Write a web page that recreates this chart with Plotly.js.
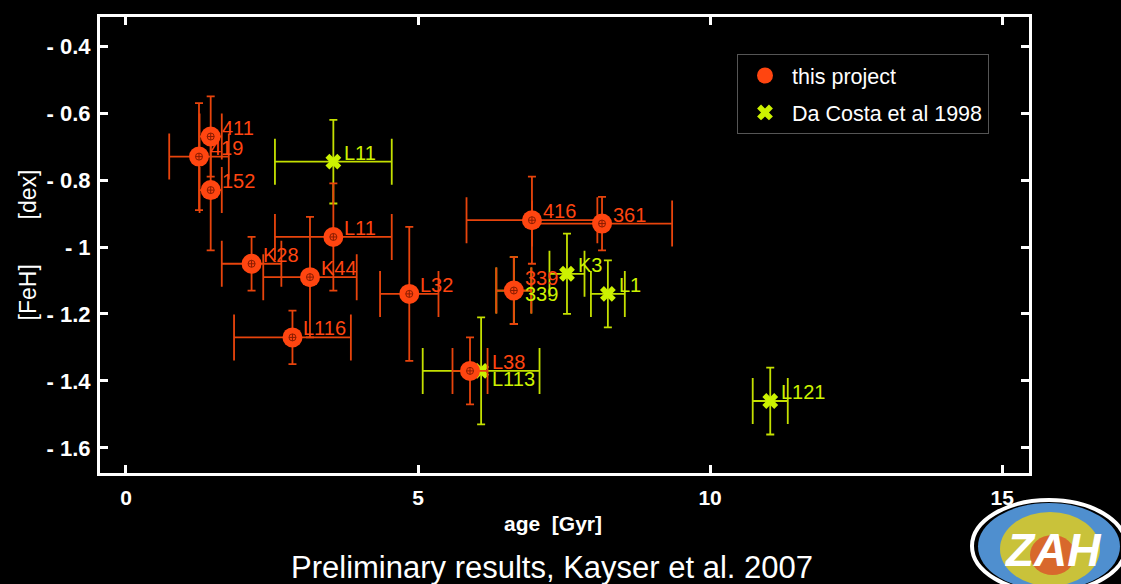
<!DOCTYPE html>
<html>
<head>
<meta charset="utf-8">
<script src="https://cdn.plot.ly/plotly-3.0.1.min.js"></script>
<style>
html,body{margin:0;padding:0;background:#000;}
#chart{width:1121px;height:584px;}
</style>
</head>
<body>
<div id="chart"></div>
<script>
// ---- data: this project (orange) ----
const projNames  = ["411", "419", "152", "K28", "K44", "L11", "L116", "L32", "L38", "339", "416", "361"];
const projAge    = [1.45, 1.25, 1.45, 2.15, 3.15, 3.55, 2.85, 4.85, 5.89, 6.64, 6.95, 8.15];
const projFeH    = [-0.67, -0.73, -0.83, -1.05, -1.09, -0.97, -1.27, -1.14, -1.37, -1.13, -0.92, -0.93];
const projAgeErr = [0.19, 0.51, 0.19, 0.51, 0.80, 1.00, 1.00, 0.50, 0.30, 0.30, 1.12, 1.20];
const projFeHErr = [0.12, 0.16, 0.18, 0.08, 0.18, 0.16, 0.08, 0.20, 0.10, 0.10, 0.13, 0.08];

// ---- data: Da Costa et al 1998 (yellow-green) ----
const dcNames  = ["L11", "339", "K3", "L1", "L113", "L121"];
const dcAge    = [3.55, 6.64, 7.55, 8.25, 6.08, 11.03];
const dcFeH    = [-0.745, -1.13, -1.08, -1.14, -1.37, -1.46];
const dcAgeErr = [1.00, 0.30, 0.30, 0.29, 1.00, 0.30];
const dcFeHErr = [0.125, 0.10, 0.12, 0.10, 0.16, 0.10];

// ---- ticks ----
const xTickVals = [0, 5, 10, 15];
const xTickText = ["0", "5", "10", "15"];
const yTickVals = [-0.4, -0.6, -0.8, -1, -1.2, -1.4, -1.6];
const yTickText = ["- 0.4", "- 0.6", "- 0.8", "- 1", "- 1.2", "- 1.4", "- 1.6"];

// ---- styling ----
const ORANGE = "#ff4510", ORANGE_BAR = "#e8440c";
const GREEN = "#ccf200", GREEN_BAR = "#c4e000";
const FONT = "Liberation Sans, Arial, Helvetica, sans-serif";
const W = 1121, H = 584;
const M = {l: 100, r: 92, t: 17, b: 111};
const PW = W - M.l - M.r, PH = H - M.t - M.b;
const px = v => (v - M.l) / PW;
const py = v => 1 - (v - M.t) / PH;

const labelShift = {
  "p:L38": {xshift: 20},
  "p:339": {yshift: 13},
  "d:339": {yshift: -3},
  "d:L113": {yshift: -8}
};

function labels(names, xs, ys, color, key) {
  return names.map((n, i) => {
    const o = labelShift[key + ":" + n] || {};
    return {
      x: xs[i], y: ys[i], xref: "x", yref: "y", text: n, showarrow: false,
      xanchor: "left", yanchor: "middle",
      xshift: o.xshift !== undefined ? o.xshift : 9,
      yshift: o.yshift !== undefined ? o.yshift : 9,
      font: {family: FONT, size: 20, color: color}
    };
  });
}

const traces = [
  {
    type: "scatter", mode: "markers", name: "Da Costa et al 1998",
    x: dcAge, y: dcFeH, legendgroup: "b", legendrank: 2,
    marker: {symbol: "x", size: 14, color: GREEN, line: {width: 0}},
    error_x: {type: "data", array: dcAgeErr, visible: true, color: GREEN_BAR, thickness: 1.8, width: 23},
    error_y: {type: "data", array: dcFeHErr, visible: true, color: GREEN_BAR, thickness: 1.8, width: 4},
    hoverinfo: "skip"
  },
  {
    type: "scatter", mode: "markers", name: "this project",
    x: projAge, y: projFeH, legendgroup: "a", legendrank: 1,
    marker: {symbol: "circle", size: 20, color: ORANGE, line: {width: 0}},
    error_x: {type: "data", array: projAgeErr, visible: true, color: ORANGE_BAR, thickness: 1.8, width: 23},
    error_y: {type: "data", array: projFeHErr, visible: true, color: ORANGE_BAR, thickness: 1.8, width: 4},
    hoverinfo: "skip"
  },
  {
    type: "scatter", mode: "markers", showlegend: false,
    x: projAge, y: projFeH,
    marker: {symbol: "circle-cross-open", size: 7, color: "#8a1c00", line: {width: 1, color: "#8a1c00"}},
    hoverinfo: "skip"
  }
];

const logoShapes = [
  {type: "circle", xref: "paper", yref: "paper", layer: "above",
   x0: px(978), x1: px(1120), y0: py(590), y1: py(503),
   fillcolor: "#4f8fcf", line: {width: 0}},
  {type: "circle", xref: "paper", yref: "paper", layer: "above",
   x0: px(1000), x1: px(1100), y0: py(586), y1: py(512),
   fillcolor: "#c9c23a", line: {width: 0}},
  {type: "circle", xref: "paper", yref: "paper", layer: "above",
   x0: px(1030), x1: px(1075), y0: py(575), y1: py(535),
   fillcolor: "#d8682c", line: {width: 0}},
  {type: "circle", xref: "paper", yref: "paper", layer: "above",
   x0: px(972), x1: px(1126), y0: py(592), y1: py(500),
   fillcolor: "rgba(0,0,0,0)", line: {width: 4, color: "#ffffff"}}
];

const layout = {
  width: W, height: H,
  margin: M,
  paper_bgcolor: "#000000", plot_bgcolor: "#000000",
  showlegend: true,
  hovermode: false,
  font: {family: FONT, color: "#ffffff"},
  xaxis: {
    range: [-0.445, 15.46],
    tickvals: xTickVals, ticktext: xTickText,
    ticks: "inside", ticklen: 8, tickwidth: 3, tickcolor: "#ffffff",
    showline: true, linecolor: "#ffffff", linewidth: 3, mirror: "ticks",
    showgrid: false, zeroline: false,
    tickfont: {family: FONT, size: 21, color: "#ffffff", weight: "bold"},
    ticklabelstandoff: 4
  },
  yaxis: {
    range: [-1.675, -0.313],
    tickvals: yTickVals, ticktext: yTickText,
    ticks: "inside", ticklen: 8, tickwidth: 3, tickcolor: "#ffffff",
    showline: true, linecolor: "#ffffff", linewidth: 3, mirror: "ticks",
    showgrid: false, zeroline: false,
    tickfont: {family: FONT, size: 22, color: "#ffffff", weight: "bold"},
    ticklabelstandoff: 2,
    title: {text: "[FeH]       [dex]", font: {family: FONT, size: 23, color: "#ffffff"}, standoff: 4}
  },
  legend: {
    x: px(737), y: py(54), xanchor: "left", yanchor: "top",
    bgcolor: "#000000", bordercolor: "#555555", borderwidth: 1,
    font: {family: FONT, size: 21.5, color: "#ffffff"},
    traceorder: "grouped", tracegroupgap: 6, itemwidth: 44
  },
  shapes: logoShapes,
  annotations: [
    ...labels(projNames, projAge, projFeH, ORANGE, "p"),
    ...labels(dcNames, dcAge, dcFeH, GREEN, "d"),
    {xref: "paper", yref: "paper", x: px(553), y: py(523), xanchor: "center", yanchor: "middle",
     showarrow: false, text: "age  [Gyr]",
     font: {family: FONT, size: 21, color: "#ffffff", weight: "bold"}},
    {xref: "paper", yref: "paper", x: px(552), y: py(567), xanchor: "center", yanchor: "middle",
     showarrow: false, text: "Preliminary results, Kayser et al. 2007",
     font: {family: FONT, size: 31, color: "#ffffff"}},
    {xref: "paper", yref: "paper", x: px(1052), y: py(550), xanchor: "center", yanchor: "middle",
     showarrow: false, text: "<i>ZAH</i>",
     font: {family: FONT, size: 46, color: "#ffffff", weight: "bold"}}
  ]
};

Plotly.newPlot("chart", traces, layout, {displayModeBar: false, staticPlot: true});
</script>
</body>
</html>
